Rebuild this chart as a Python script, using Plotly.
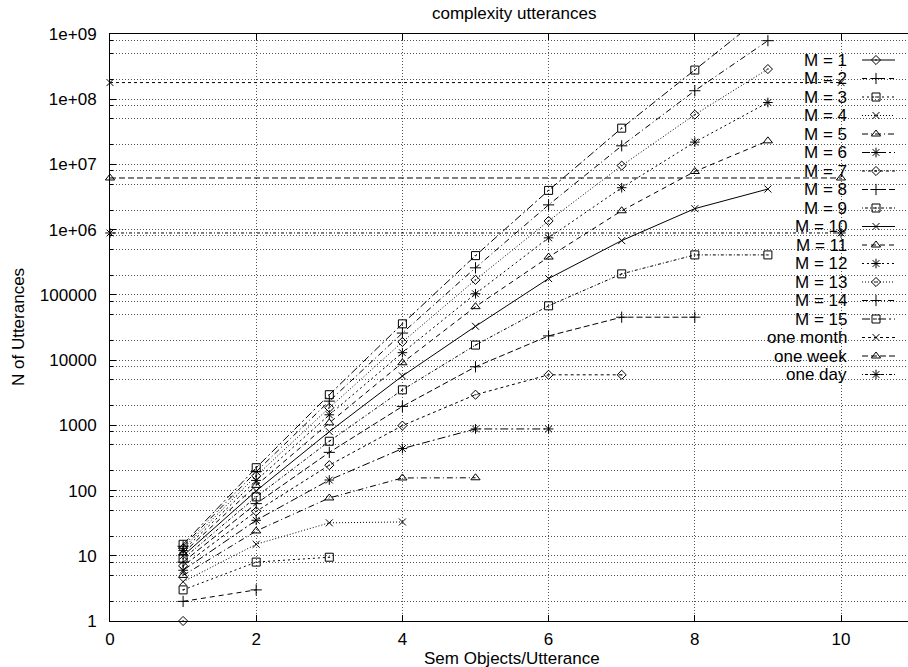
import plotly.graph_objects as go

# ---------------- data ----------------
title_text = "complexity utterances"
x_label = "Sem Objects/Utterance"
y_label = "N of Utterances"

sem_objects = [1, 2, 3, 4, 5, 6, 7, 8, 9]

m1 = [1]
m2 = [2, 3]
m3 = [3, 8, 9.5]
m4 = [4, 15, 32, 33]
m5 = [5, 24, 77, 156, 157]
m6 = [6, 35, 145, 440, 880, 880]
m7 = [7, 48, 245, 990, 2950, 5950, 5950]
m8 = [8, 63, 385, 1950, 7900, 23500, 45500, 45500]
m9 = [9, 80, 570, 3500, 17000, 68000, 210000, 410000, 410000]
m10 = [10, 99, 800, 5700, 33000, 178000, 680000, 2100000, 4200000]
m11 = [11, 120, 1090, 9100, 66000, 380000, 1950000, 7800000, 23000000]
m12 = [12, 143, 1450, 13000, 104000, 750000, 4400000, 22000000, 89000000]
m13 = [13, 168, 1860, 19000, 170000, 1360000, 9600000, 58000000, 290000000]
m14 = [14, 195, 2350, 26000, 260000, 2400000, 19300000, 135000000, 790000000]
m15 = [15, 224, 2950, 36000, 400000, 4000000, 36000000, 280000000, 2200000000]

series_values = [m1, m2, m3, m4, m5, m6, m7, m8, m9, m10, m11, m12, m13, m14, m15]
series_names = ["M = 1", "M = 2", "M = 3", "M = 4", "M = 5", "M = 6", "M = 7",
                "M = 8", "M = 9", "M = 10", "M = 11", "M = 12", "M = 13",
                "M = 14", "M = 15"]

time_x = [0, 10]
one_month = [1.8e8, 1.8e8]
one_week = [6.2e6, 6.2e6]
one_day = [8.9e5, 8.9e5]
time_values = [one_month, one_week, one_day]
time_names = ["one month", "one week", "one day"]

x_tick_vals = [0, 2, 4, 6, 8, 10]
y_tick_vals = [1, 10, 100, 1000, 10000, 100000, 1e6, 1e7, 1e8, 1e9]
y_tick_text = ["1", "10", "100", "1000", "10000", "100000",
               "1e+06", "1e+07", "1e+08", "1e+09"]
y_minor_vals = [m * d for d in [1, 10, 100, 1000, 1e4, 1e5, 1e6, 1e7, 1e8] for m in (2, 5, 8)]

# ---------------- styling / layout constants ----------------
W, H = 908, 667
L, T, B = 110, 34, 46
PLOT_BOTTOM = H - B
FONT = "Liberation Sans, Arial, sans-serif"
FS = 17

DASHES = ["solid", "5px,4px", "2px,3px", "1px,2px", "6px,3px,1px,3px",
          "8px,3px,2px,3px", "3px,3px", "6px,3px", "1px,2px,3px,2px"]
SYMBOLS = ["diamond-open-dot", "cross-thin-open", "square-open-dot",
           "x-thin-open", "triangle-up-open", "asterisk-open"]
SIZES = [7, 8, 8, 7, 8, 8]

LEG_TEXT_RIGHT = 849
LEG_TOP = 60
LEG_ROW = 18.5
LEG_LINE_X0, LEG_LINE_X1, LEG_MARK_X = 862, 895, 876

fig = go.Figure()

all_names = series_names + time_names
all_x = [sem_objects[:len(v)] for v in series_values] + [time_x] * 3
all_y = series_values + time_values

for i, (name, xs, ys) in enumerate(zip(all_names, all_x, all_y)):
    dash = DASHES[i % 9]
    sym = SYMBOLS[i % 6]
    size = SIZES[i % 6]
    clip = not (i == 0 or i >= 15)
    fig.add_trace(go.Scatter(
        x=xs, y=ys, mode="lines+markers", name=name, showlegend=False,
        cliponaxis=clip,
        line=dict(color="black", width=1, dash=dash),
        marker=dict(symbol=sym, size=size, color="black",
                    line=dict(color="black", width=1)),
    ))
    # legend sample (pixel coordinate overlay axes)
    row_y = LEG_TOP + i * LEG_ROW
    fig.add_trace(go.Scatter(
        x=[LEG_LINE_X0, LEG_LINE_X1], y=[row_y, row_y], mode="lines",
        xaxis="x2", yaxis="y2", showlegend=False, hoverinfo="skip",
        line=dict(color="black", width=1, dash=dash),
    ))
    fig.add_trace(go.Scatter(
        x=[LEG_MARK_X], y=[row_y], mode="markers",
        xaxis="x2", yaxis="y2", showlegend=False, hoverinfo="skip",
        marker=dict(symbol=sym, size=size, color="black",
                    line=dict(color="black", width=1)),
    ))
    fig.add_annotation(
        text=name, xref="x2", yref="y2", x=LEG_TEXT_RIGHT, y=row_y,
        xanchor="right", yanchor="middle", showarrow=False,
        font=dict(family=FONT, size=FS, color="black"),
    )

grid = dict(showgrid=True, gridcolor="#555555", gridwidth=1, griddash="1px,2px")

fig.update_layout(
    width=W, height=H,
    margin=dict(l=L, r=0, t=T, b=B, pad=0),
    paper_bgcolor="white", plot_bgcolor="white",
    font=dict(family=FONT, size=FS, color="black"),
    xaxis=dict(
        range=[0, (W - L) / 73.1], tickmode="array", tickvals=x_tick_vals,
        ticks="inside", ticklen=6, tickcolor="black", tickwidth=1,
        showline=True, linecolor="black", linewidth=1, mirror="ticks",
        zeroline=False, ticklabelstandoff=3,
        tickfont=dict(family=FONT, size=FS, color="black"),
        **grid,
    ),
    yaxis=dict(
        type="log", range=[0, 9], tickmode="array", tickvals=y_tick_vals,
        ticktext=y_tick_text, ticks="inside", ticklen=6, tickcolor="black",
        tickwidth=1, showline=True, linecolor="black", linewidth=1,
        zeroline=False, ticklabelstandoff=9,
        tickfont=dict(family=FONT, size=FS, color="black"),
        minor=dict(tickmode="array", tickvals=y_minor_vals, ticks="inside",
                   ticklen=3, tickcolor="black", showgrid=True,
                   gridcolor="#555555", gridwidth=1, griddash="1px,2px"),
        **grid,
    ),
    xaxis2=dict(range=[L, W], overlaying="x", anchor="y2", visible=False,
                fixedrange=True),
    yaxis2=dict(range=[PLOT_BOTTOM, T], overlaying="y", anchor="x2",
                visible=False, fixedrange=True),
    showlegend=False,
)

plot_h = PLOT_BOTTOM - T
plot_w = W - L

def paper_x(px):
    return (px - L) / plot_w

def paper_y(py):
    return (PLOT_BOTTOM - py) / plot_h

fig.add_annotation(text=title_text, xref="paper", yref="paper",
                   x=paper_x(514), y=paper_y(14), xanchor="center",
                   yanchor="middle", showarrow=False,
                   font=dict(family=FONT, size=FS, color="black"))
fig.add_annotation(text=x_label, xref="paper", yref="paper",
                   x=paper_x(512), y=paper_y(658), xanchor="center",
                   yanchor="middle", showarrow=False,
                   font=dict(family=FONT, size=FS, color="black"))
fig.add_annotation(text=y_label, xref="paper", yref="paper",
                   x=paper_x(18), y=paper_y(327), xanchor="center",
                   yanchor="middle", showarrow=False, textangle=-90,
                   font=dict(family=FONT, size=FS, color="black"))

fig.write_html("out.html",
               config={"displayModeBar": False},
               post_script="document.body.style.margin='0';"
                           "document.body.style.overflow='hidden';")
